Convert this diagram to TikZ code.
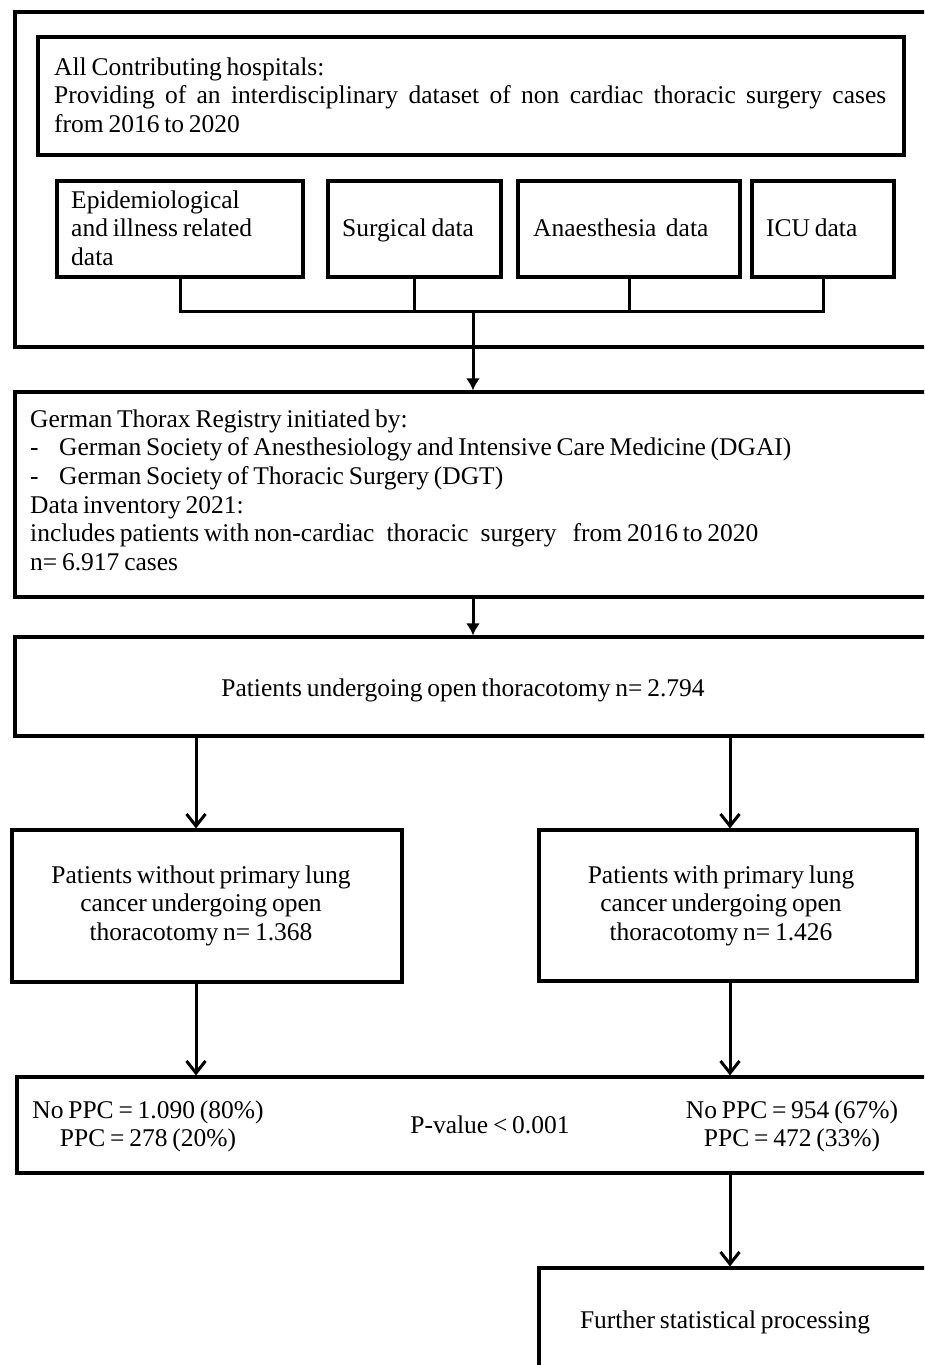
\documentclass[tikz,border=0pt]{standalone}
\usepackage{fontspec}
\setmainfont[WordSpace=0.75]{Liberation Serif}
\usetikzlibrary{arrows.meta}
\begin{document}
\begin{tikzpicture}[x=1pt,y=-1pt,
  box/.style={draw,line width=3.2pt,inner sep=0pt},
  txt/.style={inner sep=0pt,font=\fontsize{25.5}{28.7}\selectfont},
  conn/.style={line width=3pt},
  farrow/.style={conn,-{Latex[length=12pt,width=14pt]}},
  oarrow/.style={conn,-{Straight Barb[length=12pt,width=19pt,line width=3pt]}}]
\useasboundingbox (0,0) rectangle (924,1365);
\clip (0,0) rectangle (924,1365);
% boxes
\node[box,minimum width=930pt,minimum height=335pt] (outer) at (480,179.5) {};
\node[box,minimum width=866pt,minimum height=118pt] (hosp) at (471,96) {};
\node[box,minimum width=246pt,minimum height=96pt] (epi) at (180,229) {};
\node[box,minimum width=173pt,minimum height=96pt] (surg) at (414.5,229) {};
\node[box,minimum width=222pt,minimum height=96pt] (anae) at (629,229) {};
\node[box,minimum width=142pt,minimum height=96pt] (icu) at (823,229) {};
\node[box,minimum width=930pt,minimum height=205pt] (reg) at (480,494.5) {};
\node[box,minimum width=930pt,minimum height=99pt] (open) at (480,686.5) {};
\node[box,minimum width=390pt,minimum height=152pt] (without) at (207,906) {};
\node[box,minimum width=378pt,minimum height=151pt] (with) at (728,905.5) {};
\node[box,minimum width=928pt,minimum height=96pt] (ppc) at (481,1125) {};
\node[box,minimum width=406pt,minimum height=132pt] (further) at (742,1334) {};
% texts
\node[txt,anchor=base west,text width=832pt,align=flush left] (hosptxt) at (54,75)
  {All Contributing hospitals:\\\leavevmode\hbox to 832pt{Providing\hfill of\hfill an\hfill interdisciplinary\hfill dataset\hfill of\hfill non\hfill cardiac\hfill thoracic\hfill surgery\hfill cases}\\from 2016 to 2020};
\node[txt,anchor=base west,text width=225pt,align=flush left] (epitxt) at (71,208)
  {Epidemiological\\and illness related\\data};
\node[txt,anchor=base west] (surgtxt) at (342,236) {Surgical data};
\node[txt,anchor=base west] (anaetxt) at (533,236) {Anaesthesia\ \ data};
\node[txt,anchor=base west] (icutxt) at (766,236) {ICU data};
\node[txt,anchor=base west,text width=885pt,align=flush left] (regtxt) at (30,427)
  {German Thorax Registry initiated by:\\
   \makebox[29pt][l]{-}German Society of Anesthesiology and Intensive Care Medicine (DGAI)\\
   \makebox[29pt][l]{-}German Society of Thoracic Surgery (DGT)\\
   Data inventory 2021:\\
   includes patients with non-cardiac\hspace{12pt}thoracic\hspace{12pt}surgery\hspace{16pt}from 2016 to 2020\\
   n= 6.917 cases};
\node[txt,anchor=base] (opentxt) at (463,696) {Patients undergoing open thoracotomy n= 2.794};
\node[txt,anchor=base,text width=380pt,align=flush center] (withouttxt) at (201,883)
  {Patients without primary lung\\cancer undergoing open\\thoracotomy n= 1.368};
\node[txt,anchor=base,text width=370pt,align=flush center] (withtxt) at (721,883)
  {Patients with primary lung\\cancer undergoing open\\thoracotomy n= 1.426};
\node[txt,anchor=base,text width=260pt,align=flush center] (ppcltxt) at (148,1118)
  {No PPC = 1.090 (80\%)\\PPC = 278 (20\%)};
\node[txt,anchor=base] (pvaltxt) at (490,1133) {P-value < 0.001};
\node[txt,anchor=base,text width=260pt,align=flush center] (ppcrtxt) at (792,1118)
  {No PPC = 954 (67\%)\\PPC = 472 (33\%)};
\node[txt,anchor=base] (furthertxt) at (725,1328) {Further statistical processing};
% connectors
\coordinate (j) at (473,311);
\coordinate (lx) at (196,0);
\coordinate (rx) at (730,0);
\draw[conn] (epi.south) -- (epi.south |- j) -- (icu.south |- j) -- (icu.south);
\draw[conn] (surg.south) -- (surg.south |- j);
\draw[conn] (anae.south) -- (anae.south |- j);
\draw[farrow] (j) -- (j |- reg.north);
\draw[farrow] (reg.south -| j) -- (open.north -| j);
\draw[oarrow] (open.south -| lx) -- (without.north -| lx);
\draw[oarrow] (open.south -| rx) -- (with.north -| rx);
\draw[oarrow] (without.south -| lx) -- (ppc.north -| lx);
\draw[oarrow] (with.south -| rx) -- (ppc.north -| rx);
\draw[oarrow] (ppc.south -| rx) -- (further.north -| rx);
\end{tikzpicture}
\end{document}
